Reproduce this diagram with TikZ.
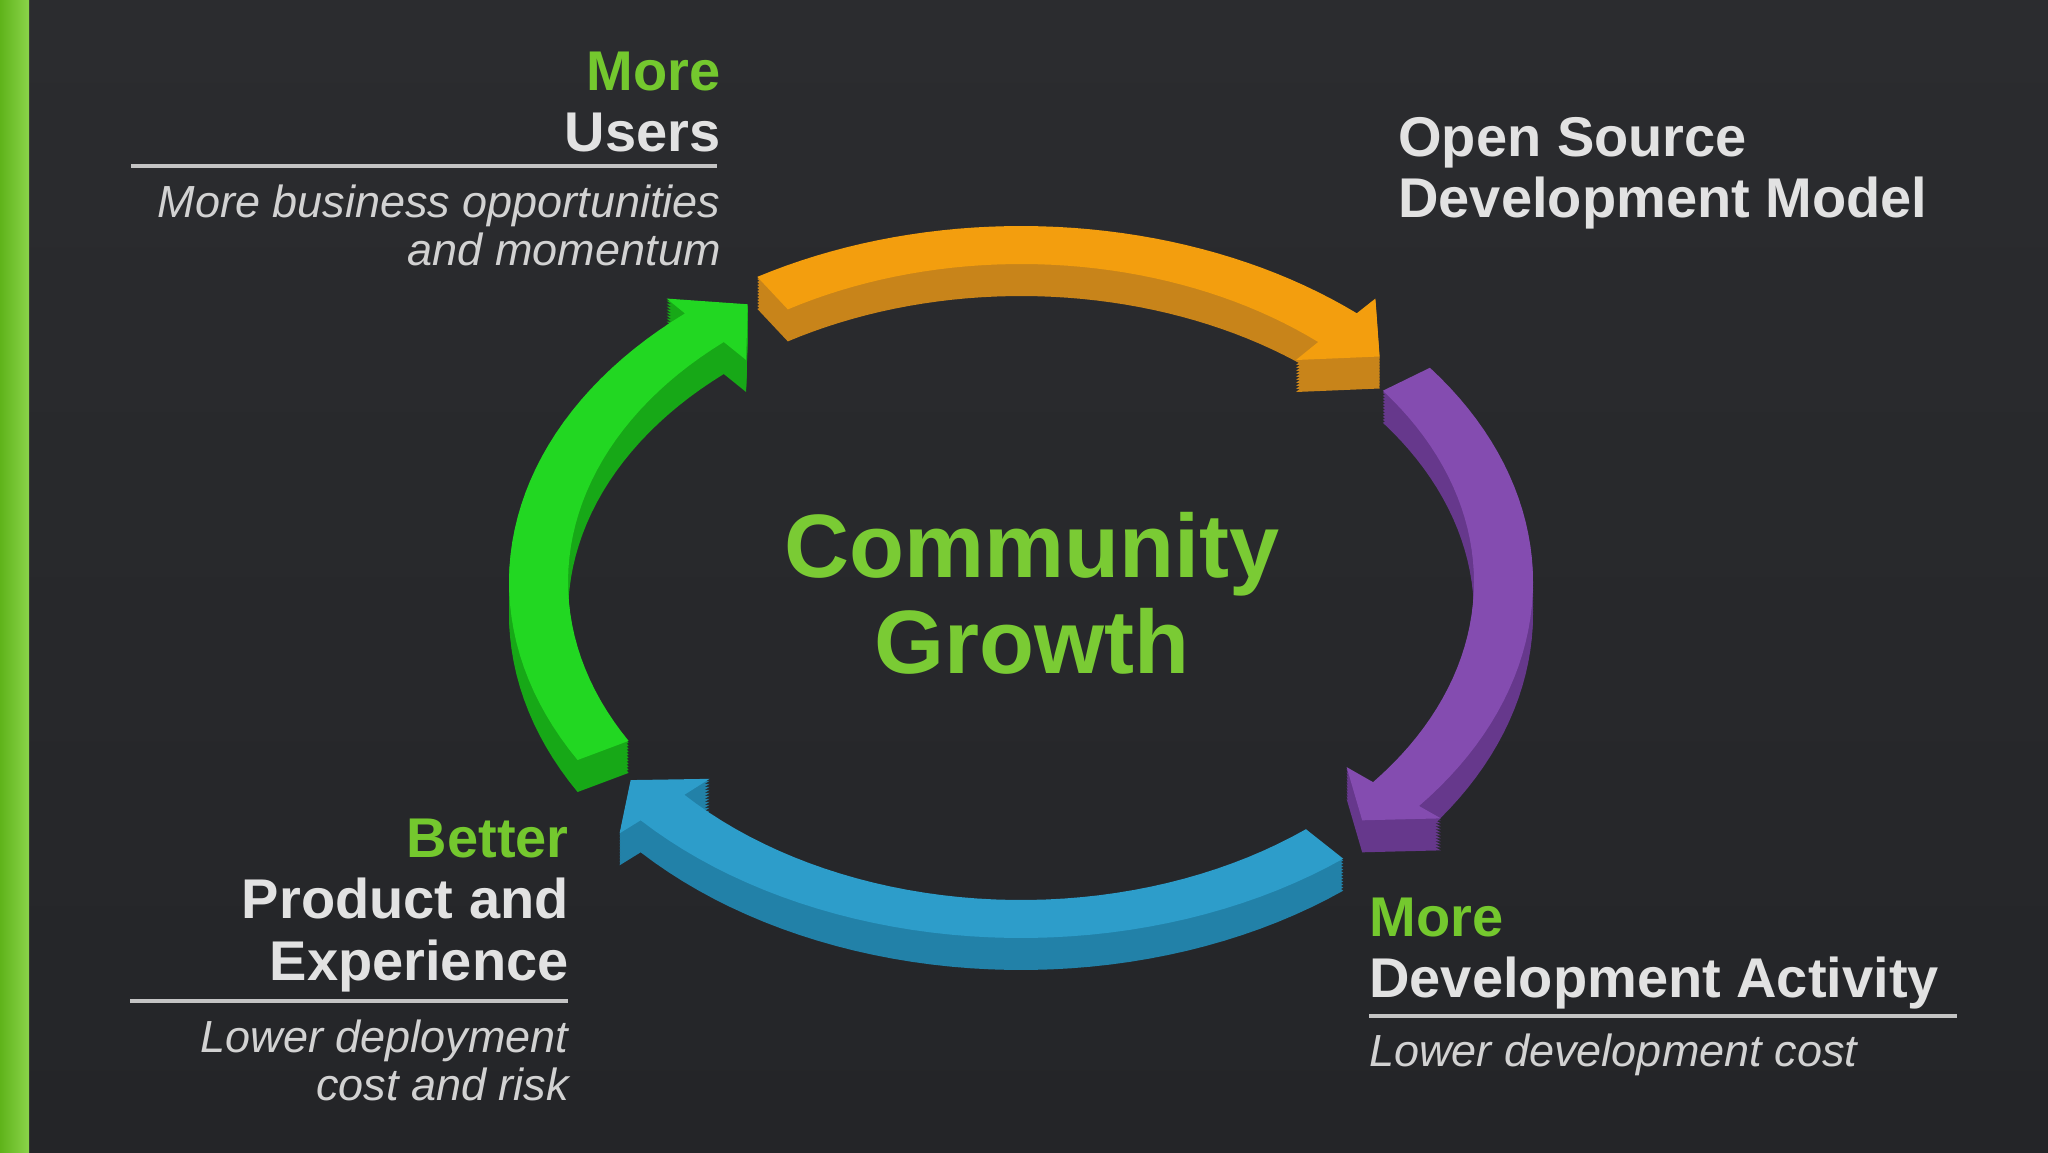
\documentclass[tikz,border=0pt]{standalone}
\usepackage{fontspec}
\setmainfont{Liberation Sans}
\usepackage{tikz}
\definecolor{bgtop}{HTML}{2B2C2F}
\definecolor{bgmid}{HTML}{1D1E20}
\definecolor{bgbot}{HTML}{242528}
\definecolor{barA}{HTML}{5FB31A}
\definecolor{barB}{HTML}{8AD44A}
\definecolor{headgreen}{HTML}{74C82E}
\definecolor{headwhite}{HTML}{E2E2E2}
\definecolor{subgray}{HTML}{D2D2D2}
\definecolor{rulegray}{HTML}{C4C4C4}
\definecolor{ctrgreen}{HTML}{7ACB34}
\definecolor{orgtop}{HTML}{F39E0E}
\definecolor{orgwall}{HTML}{C8841A}
\definecolor{purtop}{HTML}{844CB0}
\definecolor{purwall}{HTML}{66388C}
\definecolor{blutop}{HTML}{2D9DCA}
\definecolor{bluwall}{HTML}{2281A8}
\definecolor{grntop}{HTML}{22D722}
\definecolor{grnwall}{HTML}{17A817}
\tikzstyle{hdR}=[anchor=base east, inner sep=0pt, text=headwhite, font=\bfseries\fontsize{28}{28}\selectfont]
\tikzstyle{hdL}=[anchor=base west, inner sep=0pt, text=headwhite, font=\bfseries\fontsize{28}{28}\selectfont]
\tikzstyle{subR}=[anchor=base east, inner sep=0pt, text=subgray, font=\itshape\fontsize{22.5}{22.5}\selectfont]
\tikzstyle{subL}=[anchor=base west, inner sep=0pt, text=subgray, font=\itshape\fontsize{22.5}{22.5}\selectfont]
\tikzstyle{ctr}=[anchor=base, inner sep=0pt, text=ctrgreen, font=\bfseries\fontsize{45}{45}\selectfont]
\tikzstyle{rulel}=[rulegray, line width=2pt]

% ring geometry, in pixels (y down)
\newcommand{\ringX}{1021}
\newcommand{\ringY}{582}
\newcommand{\rxo}{512}
\newcommand{\ryo}{356}
\newcommand{\rxi}{453}
\newcommand{\ryi}{318}
\newcommand{\rxm}{482.5}
\newcommand{\rym}{337}
% #1 tail angle, #2 head base angle, #3 tip angle
\newcommand{\arrowpath}[3]{%
  plot[domain=0:1, samples=40] ({\ringX+\rxo*cos(#1+((#2)-(#1))*\x)},{\ringY-\ryo*sin(#1+((#2)-(#1))*\x)})
  -- ({\ringX+1.055*\rxo*cos(#2)},{\ringY-1.055*\ryo*sin(#2)})
  -- ({\ringX+\rxm*cos(#3)},{\ringY-\rym*sin(#3)})
  -- ({\ringX+0.925*\rxi*cos(#2)},{\ringY-0.925*\ryi*sin(#2)})
  -- plot[domain=0:1, samples=40] ({\ringX+\rxi*cos(#2+((#1)-(#2))*\x)},{\ringY-\ryi*sin(#2+((#1)-(#2))*\x)})
  -- cycle}
\newcommand{\ringarrow}[5]{%
  \foreach \sh in {32,29,...,2}{\fill[#5, shift={(0,\sh)}] \arrowpath{#1}{#2}{#3};}
  \fill[#4] \arrowpath{#1}{#2}{#3};}

\begin{document}
\begin{tikzpicture}[x=0.5pt, y=-0.5pt]
\useasboundingbox (0,0) rectangle (2048,1152);
\shade[top color=bgtop, middle color=bgmid, bottom color=bgbot] (0,0) rectangle (2048,1152);
\shade[left color=barA, right color=barB] (0,0) rectangle (29,1152);

% the four arrows, far side first
\ringarrow{121}{49}{42}{orgtop}{orgwall}
\ringarrow{37}{-39}{-45}{purtop}{purwall}
\ringarrow{210}{131}{124.5}{grntop}{grnwall}
\ringarrow{-51}{-138}{-144}{blutop}{bluwall}

\node[ctr] (comm) at (1032,577) {Community};
\node[ctr] (growth) at (1032,673) {Growth};

\node[hdR, text=headgreen] (more1) at (721,90) {More};
\node[hdR] (users) at (721,151) {Users};
\draw[rulel] (131,166) -- (717,166);
\node[subR] (sub1a) at (721,217) {More business opportunities};
\node[subR] (sub1b) at (721,265) {and momentum};

\node[hdL] (open) at (1398,156) {Open Source};
\node[hdL] (devmodel) at (1398,217) {Development Model};

\node[hdR, text=headgreen] (better) at (569,857) {Better};
\node[hdR] (product) at (569,918) {Product and};
\node[hdR] (experience) at (569,980) {Experience};
\draw[rulel] (130,1001) -- (568,1001);
\node[subR] (sub3a) at (569,1052) {Lower deployment};
\node[subR] (sub3b) at (569,1100) {cost and risk};

\node[hdL, text=headgreen] (more2) at (1369,936) {More};
\node[hdL] (devact) at (1369,997) {Development Activity};
\draw[rulel] (1369,1016) -- (1957,1016);
\node[subL] (sub4) at (1369,1066) {Lower development cost};
\end{tikzpicture}
\end{document}
